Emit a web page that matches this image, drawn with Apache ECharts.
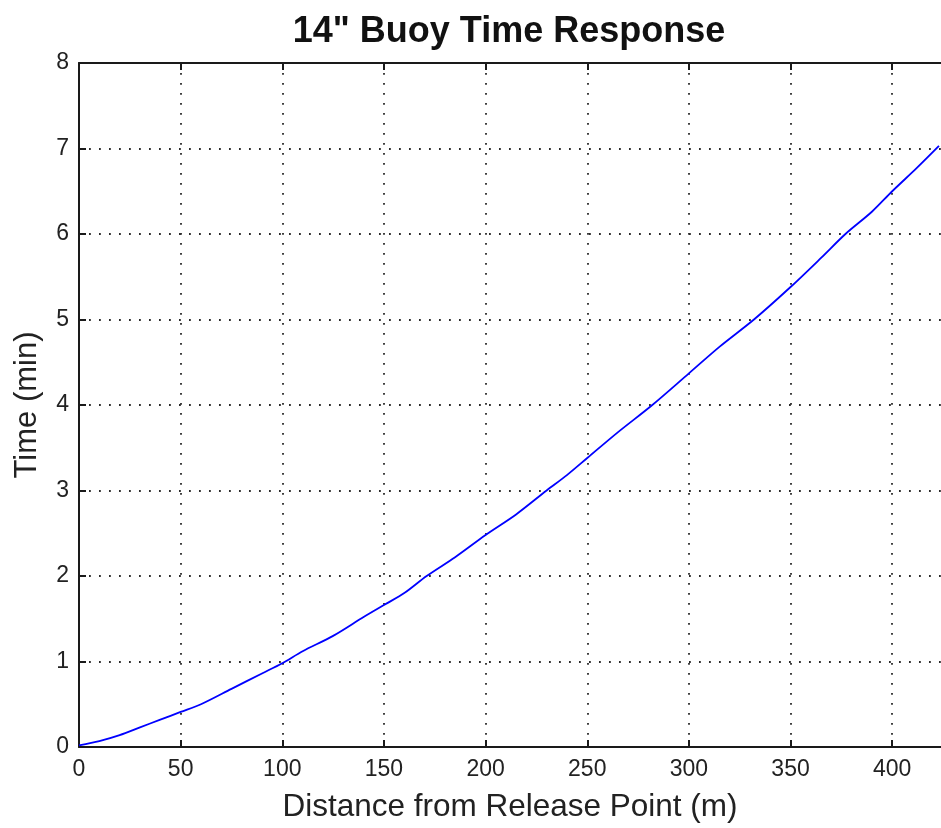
<!DOCTYPE html>
<html>
<head>
<meta charset="utf-8">
<title>14" Buoy Time Response</title>
<script src="https://cdn.jsdelivr.net/npm/echarts@6/dist/echarts.min.js"></script>
<style>
  html, body { margin: 0; padding: 0; background: #ffffff; }
  #chart { width: 941px; height: 828px; }
</style>
</head>
<body>
<div id="chart"></div>
<script>
// Distance travelled from the release point (m) and elapsed time (min)
const distance = [0, 10, 20, 30, 40, 50, 60, 75, 90, 100, 110, 125, 140, 150, 160, 171, 185, 200,
                  215, 230, 240, 250, 265, 282, 300, 315, 332, 350, 365, 377, 390, 400, 412, 423];
const timeMin  = [0.02, 0.07, 0.14, 0.23, 0.32, 0.41, 0.50, 0.68, 0.86, 0.98, 1.12, 1.30, 1.52, 1.66, 1.80, 2.00, 2.22, 2.48,
                  2.72, 3.00, 3.18, 3.38, 3.68, 4.00, 4.37, 4.68, 5.00, 5.38, 5.72, 6.00, 6.26, 6.50, 6.77, 7.03];
const xTicks = [0, 50, 100, 150, 200, 250, 300, 350, 400];
const yTicks = [0, 1, 2, 3, 4, 5, 6, 7, 8];

const FONT = '"Liberation Sans", Arial, Helvetica, sans-serif';
const points = distance.map((d, i) => [d, timeMin[i]]);

const dotted = { color: '#2a2a2a', width: 1.8, type: [1.8, 8.2] };
const axisLine = { show: true, onZero: false, lineStyle: { color: '#1a1a1a', width: 2 } };
const tick = { color: '#1a1a1a', width: 2 };

const chart = echarts.init(document.getElementById('chart'), null, { renderer: 'canvas' });
chart.setOption({
  animation: false,
  backgroundColor: '#ffffff',
  title: {
    text: '14" Buoy Time Response',
    left: 504, top: 9, textAlign: 'center',
    textStyle: { fontFamily: FONT, fontSize: 36, fontWeight: 'bold', color: '#111111' }
  },
  grid: { left: 79, top: 63, right: -1, bottom: 80, containLabel: false },
  xAxis: [{
    type: 'value', position: 'bottom', min: 0, max: 424, interval: 50,
    name: 'Distance from Release Point (m)', nameLocation: 'middle', nameGap: 44,
    nameTextStyle: { fontFamily: FONT, fontSize: 31.5, color: '#222222' },
    axisLine: axisLine,
    axisTick: { show: true, inside: true, length: 7, lineStyle: tick, customValues: xTicks },
    axisLabel: { fontFamily: FONT, fontSize: 23, color: '#222222', margin: 11, customValues: xTicks },
    splitLine: { show: true, lineStyle: dotted }
  }, {
    type: 'value', position: 'top', min: 0, max: 424, interval: 50,
    axisLine: axisLine,
    axisTick: { show: true, inside: true, length: 7, lineStyle: tick, customValues: xTicks },
    axisLabel: { show: false },
    splitLine: { show: false }
  }],
  yAxis: [{
    type: 'value', position: 'left', min: 0, max: 8, interval: 1,
    name: 'Time (min)', nameLocation: 'middle', nameGap: 36,
    nameTextStyle: { fontFamily: FONT, fontSize: 31, color: '#222222' },
    axisLine: axisLine,
    axisTick: { show: true, inside: true, length: 7, lineStyle: tick, customValues: yTicks },
    axisLabel: { fontFamily: FONT, fontSize: 23, color: '#222222', margin: 10, customValues: yTicks },
    splitLine: { show: true, lineStyle: dotted }
  }],
  series: [{
    type: 'line',
    data: points,
    showSymbol: false,
    smooth: 0.3,
    lineStyle: { color: '#0000ff', width: 1.8 },
    z: 5
  }]
});
</script>
</body>
</html>
